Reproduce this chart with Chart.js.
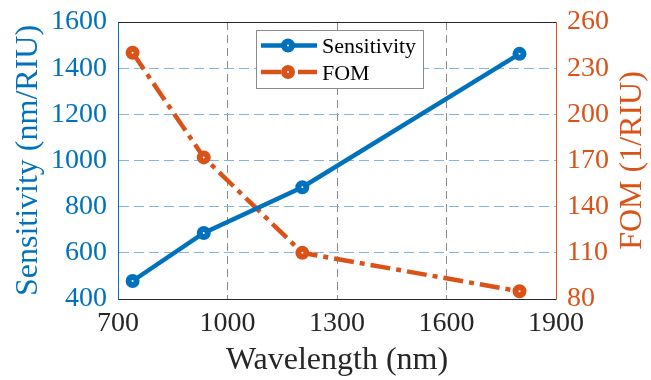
<!DOCTYPE html>
<html>
<head>
<meta charset="utf-8">
<script src="https://cdn.jsdelivr.net/npm/chart.js@4/dist/chart.umd.min.js"></script>
<style>
  html, body { margin: 0; padding: 0; background: #fff; }
  #wrap { width: 651px; height: 380px; position: relative; }
</style>
</head>
<body>
<div id="wrap"><canvas id="c" width="651" height="380"></canvas></div>
<script>
// ---- data ----
const wavelengths = [740, 935, 1205, 1800];
const sensitivity = [478, 686, 884, 1462];
const fom = [240, 172, 110, 85];
const xTicks = [700, 1000, 1300, 1600, 1900];
const sensTicks = [400, 600, 800, 1000, 1200, 1400, 1600];
const fomTicks = [80, 110, 140, 170, 200, 230, 260];
const seriesNames = ['Sensitivity', 'FOM'];
const xTitle = 'Wavelength (nm)';
const leftTitle = 'Sensitivity (nm/RIU)';
const rightTitle = 'FOM (1/RIU)';

const BLUE = '#0072BD';
const ORANGE = '#D95319';
const DARK = '#262626';
const SERIF = '"Liberation Serif", "Times New Roman", serif';
const FOM_DASH = [20, 6, 5, 6];

const toXY = (xs, ys) => xs.map((x, i) => ({ x: x, y: ys[i] }));
const plain = v => String(v);

const extras = {
  id: 'extras',
  beforeDatasetsDraw(chart) {
    const { ctx, chartArea: a } = chart;
    ctx.save();
    ctx.strokeStyle = DARK;
    ctx.lineWidth = 1;
    ctx.beginPath();
    ctx.moveTo(a.left, a.top + 0.5);
    ctx.lineTo(a.right, a.top + 0.5);
    ctx.stroke();
    ctx.restore();
  },
  afterDraw(chart) {
    const { ctx } = chart;
    ctx.save();
    ctx.fillStyle = ORANGE;
    ctx.font = '32px ' + SERIF;
    ctx.textAlign = 'center';
    ctx.textBaseline = 'middle';
    ctx.translate(633, chart.chartArea.top + (chart.chartArea.bottom - chart.chartArea.top) / 2);
    ctx.rotate(-Math.PI / 2);
    ctx.fillText(rightTitle, 0, 0);
    ctx.restore();

    ctx.save();
    const bx = 256.5, by = 30.5, bw = 167, bh = 58;
    ctx.fillStyle = '#fff';
    ctx.fillRect(bx, by, bw, bh);
    ctx.strokeStyle = '#8c8c8c';
    ctx.lineWidth = 1;
    ctx.strokeRect(bx, by, bw, bh);
    const rows = [
      { y: 45.5, color: BLUE, dash: [], name: seriesNames[0], ty: 53 },
      { y: 72, color: ORANGE, dash: FOM_DASH, name: seriesNames[1], ty: 80 }
    ];
    rows.forEach(r => {
      ctx.strokeStyle = r.color;
      ctx.lineWidth = 4.5;
      ctx.setLineDash(r.dash);
      ctx.beginPath();
      ctx.moveTo(261, r.y);
      ctx.lineTo(317, r.y);
      ctx.stroke();
      ctx.setLineDash([]);
      ctx.beginPath();
      ctx.arc(288, r.y, 4, 0, Math.PI * 2);
      ctx.fillStyle = '#fff';
      ctx.fill();
      ctx.lineWidth = 6;
      ctx.stroke();
      ctx.fillStyle = '#000';
      ctx.font = '22px ' + SERIF;
      ctx.textAlign = 'left';
      ctx.textBaseline = 'alphabetic';
      ctx.fillText(r.name, 322, r.ty);
    });
    ctx.restore();
  }
};

new Chart(document.getElementById('c'), {
  type: 'line',
  data: {
    datasets: [
      {
        label: seriesNames[0],
        data: toXY(wavelengths, sensitivity),
        yAxisID: 'y',
        borderColor: BLUE,
        backgroundColor: '#fff',
        borderWidth: 4.5,
        pointRadius: 4,
        pointBorderWidth: 6,
        pointBackgroundColor: '#fff',
        pointBorderColor: BLUE,
        tension: 0
      },
      {
        label: seriesNames[1],
        data: toXY(wavelengths, fom),
        yAxisID: 'y2',
        borderColor: ORANGE,
        backgroundColor: '#fff',
        borderWidth: 4.5,
        borderDash: FOM_DASH,
        pointRadius: 4,
        pointBorderWidth: 6,
        pointBackgroundColor: '#fff',
        pointBorderColor: ORANGE,
        tension: 0
      }
    ]
  },
  options: {
    responsive: false,
    animation: false,
    layout: { padding: { top: 22, left: 0, right: 0, bottom: 0 } },
    plugins: { legend: { display: false }, tooltip: { enabled: false } },
    scales: {
      x: {
        type: 'linear',
        min: xTicks[0],
        max: xTicks[xTicks.length - 1],
        afterBuildTicks: s => { s.ticks = xTicks.map(v => ({ value: v })); },
        afterFit: s => { s.height = 81; s.paddingLeft = 0; s.paddingRight = 0; },
        ticks: { color: DARK, font: { family: SERIF, size: 28 }, padding: 8, maxRotation: 0, callback: plain },
        grid: {
          drawTicks: false,
          color: c => (c.tick && (c.tick.value === 700 || c.tick.value === 1900)) ? 'rgba(0,0,0,0)' : '#8a8a8a',
          lineWidth: 1
        },
        border: { color: DARK, width: 1, dash: [8, 5] },
        title: { display: true, text: xTitle, color: DARK, font: { family: SERIF, size: 32 }, padding: { top: 0, bottom: 0 } }
      },
      y: {
        position: 'left',
        min: sensTicks[0],
        max: sensTicks[sensTicks.length - 1],
        afterBuildTicks: s => { s.ticks = sensTicks.map(v => ({ value: v })); },
        afterFit: s => { s.width = 118; s.paddingTop = 0; s.paddingBottom = 0; },
        ticks: { color: BLUE, font: { family: SERIF, size: 28 }, padding: 11, callback: plain },
        grid: { drawTicks: false, color: '#82b6de', lineWidth: 1 },
        border: { color: BLUE, width: 1, dash: [10, 5] },
        title: { display: true, text: leftTitle, color: BLUE, font: { family: SERIF, size: 32 }, padding: { top: 9, bottom: 0 } }
      },
      y2: {
        position: 'right',
        min: fomTicks[0],
        max: fomTicks[fomTicks.length - 1],
        afterBuildTicks: s => { s.ticks = fomTicks.map(v => ({ value: v })); },
        afterFit: s => { s.width = 95; s.paddingTop = 0; s.paddingBottom = 0; },
        ticks: { color: ORANGE, font: { family: SERIF, size: 28 }, padding: 11, callback: plain },
        grid: { display: false, drawTicks: false },
        border: { color: ORANGE, width: 1 }
      }
    }
  },
  plugins: [extras]
});
</script>
</body>
</html>
